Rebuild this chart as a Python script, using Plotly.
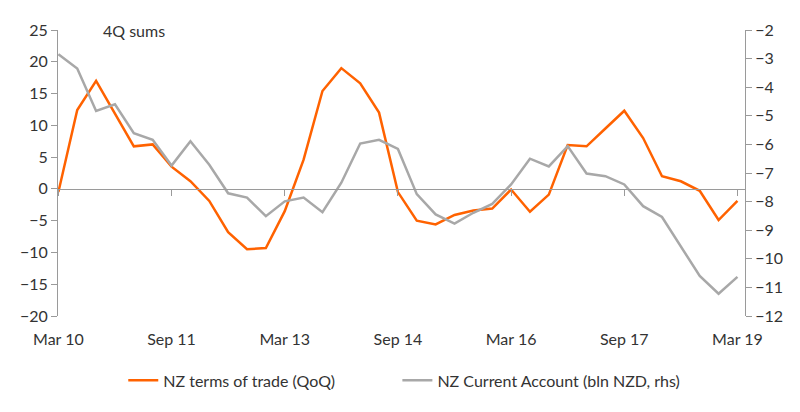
import plotly.graph_objects as go

# quarterly data, Mar 10 - Mar 19
quarters = [
    "Mar 10", "Jun 10", "Sep 10", "Dec 10",
    "Mar 11", "Jun 11", "Sep 11", "Dec 11",
    "Mar 12", "Jun 12", "Sep 12", "Dec 12",
    "Mar 13", "Jun 13", "Sep 13", "Dec 13",
    "Mar 14", "Jun 14", "Sep 14", "Dec 14",
    "Mar 15", "Jun 15", "Sep 15", "Dec 15",
    "Mar 16", "Jun 16", "Sep 16", "Dec 16",
    "Mar 17", "Jun 17", "Sep 17", "Dec 17",
    "Mar 18", "Jun 18", "Sep 18", "Dec 18",
    "Mar 19",
]

terms_of_trade = [
    -0.5, 12.4, 17.0, 11.9, 6.7, 7.0, 3.5, 1.2, -1.9, -6.8,
    -9.5, -9.3, -3.5, 4.6, 15.4, 19.0, 16.6, 12.0, -0.5, -5.0,
    -5.6, -4.1, -3.4, -3.1, -0.1, -3.6, -0.9, 6.9, 6.7, 9.5,
    12.3, 8.0, 2.0, 1.2, -0.3, -4.9, -1.9,
]

current_account = [
    -2.85, -3.35, -4.83, -4.60, -5.61, -5.84, -6.74, -5.89, -6.71, -7.71,
    -7.86, -8.51, -7.99, -7.86, -8.37, -7.34, -5.97, -5.84, -6.16, -7.74,
    -8.45, -8.77, -8.39, -8.08, -7.40, -6.50, -6.77, -6.06, -7.02, -7.11,
    -7.40, -8.16, -8.54, -9.57, -10.60, -11.22, -10.63,
]

tick_labels = ["Mar 10", "Sep 11", "Mar 13", "Sep 14", "Mar 16", "Sep 17", "Mar 19"]

ORANGE = "#FF6200"
GREY = "#A8A8A8"
AXIS = "#9A9A9A"
TEXT = "#333333"

fig = go.Figure()

fig.add_trace(go.Scatter(
    x=quarters, y=terms_of_trade, name="NZ terms of trade (QoQ)",
    mode="lines", line=dict(color=ORANGE, width=2.5), legend="legend",
))
fig.add_trace(go.Scatter(
    x=quarters, y=current_account, name="NZ Current Account (bln NZD, rhs)",
    mode="lines", line=dict(color=GREY, width=2.5), yaxis="y2",
    legend="legend2",
))

# empty trace so the second x axis (the line through zero) gets drawn
fig.add_trace(go.Scatter(
    x=quarters, y=[None] * len(quarters), xaxis="x2",
    showlegend=False, hoverinfo="skip",
))

legend_style = dict(
    orientation="h", xanchor="left", y=-0.225, yanchor="middle",
    font=dict(size=16, color=TEXT),
)

# page body has an 8px margin, so margins are shifted by that
fig.update_layout(
    width=800, height=412,
    margin=dict(l=49, r=63, t=17, b=104),
    paper_bgcolor="white", plot_bgcolor="white",
    font=dict(family="Lato, Open Sans, sans-serif", size=16, color=TEXT),
    showlegend=True,
    legend=dict(x=0.095, **legend_style),
    legend2=dict(x=0.494, **legend_style),
    xaxis=dict(
        type="category", categoryorder="array", categoryarray=quarters,
        range=[-0.02, 36.4],
        tickmode="array", tickvals=tick_labels, ticktext=tick_labels,
        showline=False, showgrid=False, zeroline=False, ticks="",
        ticklabelstandoff=12,
    ),
    xaxis2=dict(
        type="category", categoryorder="array", categoryarray=quarters,
        range=[-0.02, 36.4], overlaying="x", anchor="free",
        position=20 / 45,
        tickmode="array", tickvals=tick_labels, showticklabels=False,
        showline=True, linecolor=AXIS, linewidth=1,
        ticks="outside", ticklen=6, tickcolor=AXIS,
        showgrid=False, zeroline=False,
    ),
    yaxis=dict(
        range=[-20, 25], dtick=5,
        showline=True, linecolor=AXIS, linewidth=1,
        ticks="outside", ticklen=6, tickcolor=AXIS,
        showgrid=False, zeroline=False,
    ),
    yaxis2=dict(
        range=[-12, -2], dtick=1, overlaying="y", side="right",
        showline=True, linecolor=AXIS, linewidth=1,
        ticks="outside", ticklen=6, tickcolor=AXIS,
        showgrid=False, zeroline=False,
    ),
    annotations=[dict(
        text="4Q sums", xref="paper", yref="paper", x=0.062, y=1.0,
        xanchor="left", yanchor="middle", showarrow=False,
        font=dict(size=16, color=TEXT),
    )],
)

fig.write_html("out.html")
